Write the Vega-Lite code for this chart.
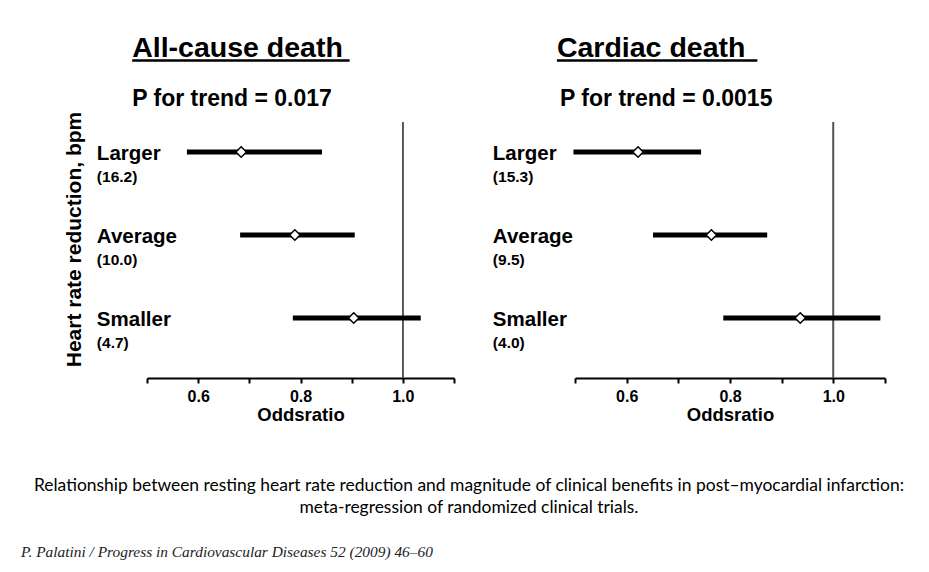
{
  "$schema": "https://vega.github.io/schema/vega-lite/v6.json",
  "padding": {"left": 21, "top": 33, "right": 0, "bottom": 0},
  "background": "white",
  "bounds": "flush",
  "spacing": 256,
  "datasets": {
    "allcause": [
      {"group": "Larger", "hr": "(16.2)", "or": 0.684, "lo": 0.578, "hi": 0.842},
      {"group": "Average", "hr": "(10.0)", "or": 0.789, "lo": 0.682, "hi": 0.906},
      {"group": "Smaller", "hr": "(4.7)", "or": 0.904, "lo": 0.785, "hi": 1.035}
    ],
    "cardiac": [
      {"group": "Larger", "hr": "(15.3)", "or": 0.622, "lo": 0.497, "hi": 0.744},
      {"group": "Average", "hr": "(9.5)", "or": 0.764, "lo": 0.651, "hi": 0.872},
      {"group": "Smaller", "hr": "(4.0)", "or": 0.936, "lo": 0.787, "hi": 1.091}
    ],
    "titles_left": [{"title": "All-cause death", "trend": "P for trend = 0.017"}],
    "titles_right": [{"title": "Cardiac death", "trend": "P for trend = 0.0015"}],
    "notes": [{"caption": ["Relationship between resting heart rate reduction and magnitude of clinical benefits in post–myocardial infarction:", "meta-regression of randomized clinical trials."], "source": "P. Palatini / Progress in Cardiovascular Diseases 52 (2009) 46–60"}]
  },
  "vconcat": [
    {
      "bounds": "flush",
      "spacing": 121,
      "hconcat": [
        {
          "width": 307, "height": 256,
          "resolve": {"scale": {"y": "independent"}, "axis": {"y": "independent"}},
          "layer": [
            {
              "data": {"name": "allcause"},
              "layer": [
                {
                  "mark": {"type": "rule", "color": "#555", "strokeWidth": 1.5},
                  "encoding": {"x": {"datum": 1, "type": "quantitative"}}
                },
                {
                  "mark": {"type": "rule", "color": "black", "strokeWidth": 5, "strokeCap": "butt"},
                  "encoding": {
                    "x": {"field": "lo", "type": "quantitative", "title": "Oddsratio",
                      "scale": {"domain": [0.5, 1.1], "nice": false, "zero": false},
                      "axis": {"values": [0.5, 0.6, 0.7, 0.8, 0.9, 1.0, 1.1],
                        "labelExpr": "(abs(datum.value-0.6)<0.01 || abs(datum.value-0.8)<0.01 || abs(datum.value-1)<0.01) ? format(datum.value, '.1f') : ''",
                        "grid": false, "domainColor": "black", "domainWidth": 2, "tickColor": "black", "tickWidth": 2, "tickSize": 5,
                        "labelFont": "Liberation Sans", "labelFontSize": 16, "labelFontWeight": "bold", "labelColor": "black", "labelPadding": 5,
                        "titleFont": "Liberation Sans", "titleFontSize": 18.5, "titleFontWeight": "bold", "titleColor": "black", "titlePadding": 1}},
                    "x2": {"field": "hi"},
                    "y": {"field": "group", "type": "nominal", "sort": ["Larger", "Average", "Smaller"],
                      "scale": {"type": "point", "padding": 0.542, "align": 0.333},
                      "axis": {"title": "Heart rate reduction, bpm", "labels": false, "ticks": false, "domain": false, "grid": false,
                        "titleFont": "Liberation Sans", "titleFontSize": 21, "titleFontWeight": "bold", "titleColor": "black",
                        "titlePadding": 63, "titleY": 117}}
                  }
                },
                {
                  "mark": {"type": "point", "shape": "diamond", "filled": true, "fill": "white", "stroke": "black", "strokeWidth": 1.5, "size": 110, "opacity": 1},
                  "encoding": {
                    "x": {"field": "or", "type": "quantitative"},
                    "y": {"field": "group", "type": "nominal", "sort": ["Larger", "Average", "Smaller"]}
                  }
                },
                {
                  "mark": {"type": "text", "align": "left", "baseline": "alphabetic", "dy": 8, "font": "Liberation Sans", "fontSize": 20.5, "fontWeight": "bold", "color": "black"},
                  "encoding": {
                    "x": {"datum": 0.402, "type": "quantitative"},
                    "y": {"field": "group", "type": "nominal", "sort": ["Larger", "Average", "Smaller"]},
                    "text": {"field": "group"}
                  }
                },
                {
                  "mark": {"type": "text", "align": "left", "baseline": "alphabetic", "dy": 30, "font": "Liberation Sans", "fontSize": 15.5, "fontWeight": "bold", "color": "black"},
                  "encoding": {
                    "x": {"datum": 0.402, "type": "quantitative"},
                    "y": {"field": "group", "type": "nominal", "sort": ["Larger", "Average", "Smaller"]},
                    "text": {"field": "hr"}
                  }
                }
              ]
            },
            {
              "data": {"name": "titles_left"},
              "layer": [
                {
                  "mark": {"type": "text", "align": "left", "baseline": "alphabetic", "font": "Liberation Sans", "fontSize": 28.5, "fontWeight": "bold", "color": "black"},
                  "encoding": {
                    "x": {"datum": 0.471, "type": "quantitative"},
                    "y": {"datum": 1.254, "type": "quantitative", "scale": {"domain": [0, 1], "nice": false, "zero": false}, "axis": null},
                    "text": {"field": "title"}
                  }
                },
                {
                  "mark": {"type": "rule", "color": "black", "strokeWidth": 2.5},
                  "encoding": {
                    "x": {"datum": 0.471, "type": "quantitative"},
                    "x2": {"datum": 0.896},
                    "y": {"datum": 1.240, "type": "quantitative"}
                  }
                },
                {
                  "mark": {"type": "text", "align": "left", "baseline": "alphabetic", "font": "Liberation Sans", "fontSize": 23, "fontWeight": "bold", "color": "black"},
                  "encoding": {
                    "x": {"datum": 0.471, "type": "quantitative"},
                    "y": {"datum": 1.0625, "type": "quantitative"},
                    "text": {"field": "trend"}
                  }
                }
              ]
            }
          ]
        },
        {
          "width": 310, "height": 256,
          "resolve": {"scale": {"y": "independent"}, "axis": {"y": "independent"}},
          "layer": [
            {
              "data": {"name": "cardiac"},
              "layer": [
                {
                  "mark": {"type": "rule", "color": "#555", "strokeWidth": 1.5},
                  "encoding": {"x": {"datum": 1, "type": "quantitative"}}
                },
                {
                  "mark": {"type": "rule", "color": "black", "strokeWidth": 5, "strokeCap": "butt"},
                  "encoding": {
                    "x": {"field": "lo", "type": "quantitative", "title": "Oddsratio",
                      "scale": {"domain": [0.5, 1.1], "nice": false, "zero": false},
                      "axis": {"values": [0.5, 0.6, 0.7, 0.8, 0.9, 1.0, 1.1],
                        "labelExpr": "(abs(datum.value-0.6)<0.01 || abs(datum.value-0.8)<0.01 || abs(datum.value-1)<0.01) ? format(datum.value, '.1f') : ''",
                        "grid": false, "domainColor": "black", "domainWidth": 2, "tickColor": "black", "tickWidth": 2, "tickSize": 5,
                        "labelFont": "Liberation Sans", "labelFontSize": 16, "labelFontWeight": "bold", "labelColor": "black", "labelPadding": 5,
                        "titleFont": "Liberation Sans", "titleFontSize": 18.5, "titleFontWeight": "bold", "titleColor": "black", "titlePadding": 1}},
                    "x2": {"field": "hi"},
                    "y": {"field": "group", "type": "nominal", "sort": ["Larger", "Average", "Smaller"],
                      "scale": {"type": "point", "padding": 0.542, "align": 0.333},
                      "axis": null}
                  }
                },
                {
                  "mark": {"type": "point", "shape": "diamond", "filled": true, "fill": "white", "stroke": "black", "strokeWidth": 1.5, "size": 110, "opacity": 1},
                  "encoding": {
                    "x": {"field": "or", "type": "quantitative"},
                    "y": {"field": "group", "type": "nominal", "sort": ["Larger", "Average", "Smaller"]}
                  }
                },
                {
                  "mark": {"type": "text", "align": "left", "baseline": "alphabetic", "dy": 8, "font": "Liberation Sans", "fontSize": 20.5, "fontWeight": "bold", "color": "black"},
                  "encoding": {
                    "x": {"datum": 0.341, "type": "quantitative"},
                    "y": {"field": "group", "type": "nominal", "sort": ["Larger", "Average", "Smaller"]},
                    "text": {"field": "group"}
                  }
                },
                {
                  "mark": {"type": "text", "align": "left", "baseline": "alphabetic", "dy": 30, "font": "Liberation Sans", "fontSize": 15.5, "fontWeight": "bold", "color": "black"},
                  "encoding": {
                    "x": {"datum": 0.341, "type": "quantitative"},
                    "y": {"field": "group", "type": "nominal", "sort": ["Larger", "Average", "Smaller"]},
                    "text": {"field": "hr"}
                  }
                }
              ]
            },
            {
              "data": {"name": "titles_right"},
              "layer": [
                {
                  "mark": {"type": "text", "align": "left", "baseline": "alphabetic", "font": "Liberation Sans", "fontSize": 28.5, "fontWeight": "bold", "color": "black"},
                  "encoding": {
                    "x": {"datum": 0.465, "type": "quantitative"},
                    "y": {"datum": 1.254, "type": "quantitative", "scale": {"domain": [0, 1], "nice": false, "zero": false}, "axis": null},
                    "text": {"field": "title"}
                  }
                },
                {
                  "mark": {"type": "rule", "color": "black", "strokeWidth": 2.5},
                  "encoding": {
                    "x": {"datum": 0.465, "type": "quantitative"},
                    "x2": {"datum": 0.853},
                    "y": {"datum": 1.240, "type": "quantitative"}
                  }
                },
                {
                  "mark": {"type": "text", "align": "left", "baseline": "alphabetic", "font": "Liberation Sans", "fontSize": 23, "fontWeight": "bold", "color": "black"},
                  "encoding": {
                    "x": {"datum": 0.471, "type": "quantitative"},
                    "y": {"datum": 1.0625, "type": "quantitative"},
                    "text": {"field": "trend"}
                  }
                }
              ]
            }
          ]
        }
      ]
    },
    {
      "width": 738, "height": 194,
      "data": {"name": "notes"},
      "layer": [
        {
          "mark": {"type": "text", "align": "center", "baseline": "top", "font": "Lato", "fontSize": 17.45, "lineHeight": 22, "color": "black"},
          "encoding": {
            "x": {"datum": 0.4363, "type": "quantitative", "scale": {"domain": [0, 1], "nice": false, "zero": false}, "axis": null},
            "y": {"datum": 0.49, "type": "quantitative", "scale": {"domain": [0, 1], "nice": false, "zero": false}, "axis": null},
            "text": {"field": "caption"}
          }
        },
        {
          "mark": {"type": "text", "align": "left", "baseline": "top", "font": "Liberation Serif", "fontStyle": "italic", "fontSize": 15.4, "color": "#222"},
          "encoding": {
            "x": {"datum": -0.1707, "type": "quantitative"},
            "y": {"datum": 0.138, "type": "quantitative"},
            "text": {"field": "source"}
          }
        }
      ]
    }
  ],
  "config": {
    "view": {"stroke": null},
    "font": "Liberation Sans"
  }
}
